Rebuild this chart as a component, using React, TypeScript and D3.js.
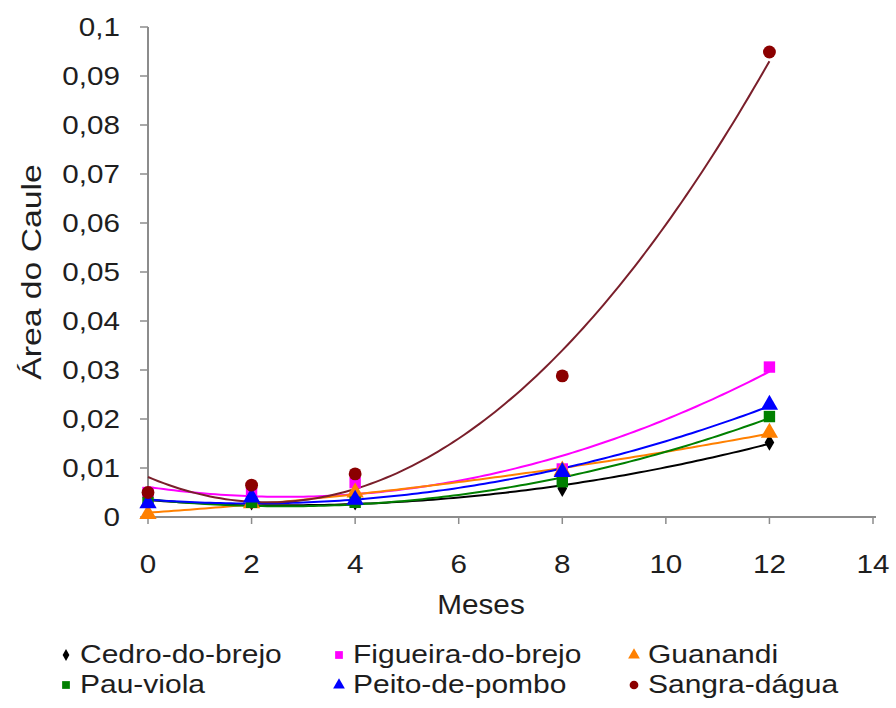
import React from "react";
import * as d3 from "d3";

const months = [0, 2, 4, 8, 12];
const seriesNames = ["Cedro-do-brejo", "Figueira-do-brejo", "Guanandi", "Pau-viola", "Peito-de-pombo", "Sangra-dágua"];
const cedro = [0.003, 0.003, 0.003, 0.0058, 0.0152];
const figueira = [0.005, 0.0048, 0.007, 0.0098, 0.0306];
const guanandi = [0.0006, 0.0028, 0.005, 0.0095, 0.0172];
const pauViola = [0.003, 0.003, 0.003, 0.0072, 0.0205];
const peito = [0.0028, 0.004, 0.0035, 0.0092, 0.0229];
const sangra = [0.005, 0.0065, 0.0088, 0.0288, 0.0949];
const seriesColors = ["#000000", "#ff00ff", "#ff8000", "#008000", "#0000ff", "#8b0000"];
const lineColors = ["#000000", "#ff00ff", "#ff8000", "#008000", "#0000ff", "#7a1f2b"];
const seriesSymbols = [d3.symbolDiamond, d3.symbolSquare, d3.symbolTriangle, d3.symbolSquare, d3.symbolTriangle, d3.symbolCircle];
const xTicks = [0, 2, 4, 6, 8, 10, 12, 14];
const yTicks = [0, 0.01, 0.02, 0.03, 0.04, 0.05, 0.06, 0.07, 0.08, 0.09, 0.1];

const seriesValues = [cedro, figueira, guanandi, pauViola, peito, sangra];

function quadFit(xs: number[], ys: number[]) {
  let s0 = 0, s1 = 0, s2 = 0, s3 = 0, s4 = 0, t0 = 0, t1 = 0, t2 = 0;
  xs.forEach((x, i) => {
    const y = ys[i];
    s0 += 1; s1 += x; s2 += x * x; s3 += x * x * x; s4 += x * x * x * x;
    t0 += y; t1 += x * y; t2 += x * x * y;
  });
  const M = [
    [s0, s1, s2, t0],
    [s1, s2, s3, t1],
    [s2, s3, s4, t2],
  ];
  for (let i = 0; i < 3; i++) {
    let p = i;
    for (let r = i + 1; r < 3; r++) if (Math.abs(M[r][i]) > Math.abs(M[p][i])) p = r;
    [M[i], M[p]] = [M[p], M[i]];
    for (let r = 0; r < 3; r++) {
      if (r === i) continue;
      const f = M[r][i] / M[i][i];
      for (let c = i; c < 4; c++) M[r][c] -= f * M[i][c];
    }
  }
  const a = M[0][3] / M[0][0], b = M[1][3] / M[1][1], c = M[2][3] / M[2][2];
  return (x: number) => a + b * x + c * x * x;
}

const fmt = d3.formatLocale({ decimal: ",", thousands: ".", grouping: [3], currency: ["", ""] }).format("~g");

export default function App() {
  const W = 896, H = 708;
  const x = d3.scaleLinear().domain([0, 14]).range([148, 873]);
  const y = d3.scaleLinear().domain([0, 0.1]).range([517, 27]);
  const font = "'Liberation Sans', Arial, sans-serif";
  const axisColor = "#8c8c8c";
  const textColor = "#1e1e1e";

  const sampleX = d3.range(0, 12.0001, 0.1);

  const legendCols = [62, 335, 630];
  const legendRows = [663, 693];

  return (
    <svg width={W} height={H} style={{ position: "fixed", left: 0, top: 0, background: "#fff" }} fontFamily={font}>
      <rect width={W} height={H} fill="#ffffff" />
      {/* axes */}
      <line x1={148} x2={148} y1={y(0.1)} y2={y(0)} stroke={axisColor} strokeWidth={2} />
      <line x1={148} x2={x(14) + 3} y1={y(0)} y2={y(0)} stroke={axisColor} strokeWidth={2} />
      {yTicks.map((t) => (
        <g key={"yt" + t}>
          <line x1={140} x2={148} y1={y(t)} y2={y(t)} stroke={axisColor} strokeWidth={1.5} />
          <text transform={`translate(120,${y(t) + 9}) scale(1.14,1)`} textAnchor="end" fontSize={26} fill={textColor}>{fmt(t)}</text>
        </g>
      ))}
      {xTicks.map((t) => (
        <g key={"xt" + t}>
          <line x1={x(t)} x2={x(t)} y1={y(0)} y2={y(0) + 7} stroke={axisColor} strokeWidth={1.5} />
          <text transform={`translate(${x(t)},573) scale(1.14,1)`} textAnchor="middle" fontSize={26} fill={textColor}>{t}</text>
        </g>
      ))}
      <text transform="translate(481,614) scale(1.1,1)" textAnchor="middle" fontSize={27} fill={textColor}>Meses</text>
      <text transform={`translate(41,272) rotate(-90) scale(1.25,1)`} textAnchor="middle" fontSize={27} fill={textColor}>Área do Caule</text>

      {/* trend lines */}
      {seriesValues.map((vals, i) => {
        const f = quadFit(months, vals);
        const pts = sampleX.map((sx) => [x(sx), y(f(sx))] as [number, number]);
        const path = d3.line()(pts) || "";
        return <path key={"tl" + i} d={path} fill="none" stroke={lineColors[i]} strokeWidth={2} />;
      })}

      {/* markers */}
      {seriesValues.map((vals, i) => (
        <g key={"mk" + i}>
          {vals.map((v, j) => (
            <path
              key={j}
              transform={`translate(${x(months[j])},${y(v)})`}
              d={d3.symbol().type(seriesSymbols[i]).size(i === 0 ? 80 : 130)() || ""}
              fill={seriesColors[i]}
            />
          ))}
        </g>
      ))}

      {/* legend */}
      {seriesNames.map((name, i) => {
        const cx = legendCols[i % 3];
        const cy = legendRows[Math.floor(i / 3)];
        return (
          <g key={"lg" + i}>
            <path
              transform={`translate(${cx + 4},${cy - 8})`}
              d={d3.symbol().type(seriesSymbols[i]).size(i === 0 ? 40 : 60)() || ""}
              fill={seriesColors[i]}
            />
            <text transform={`translate(${cx + 18},${cy}) scale(1.2,1)`} fontSize={25} fill={textColor}>{name}</text>
          </g>
        );
      })}
    </svg>
  );
}
